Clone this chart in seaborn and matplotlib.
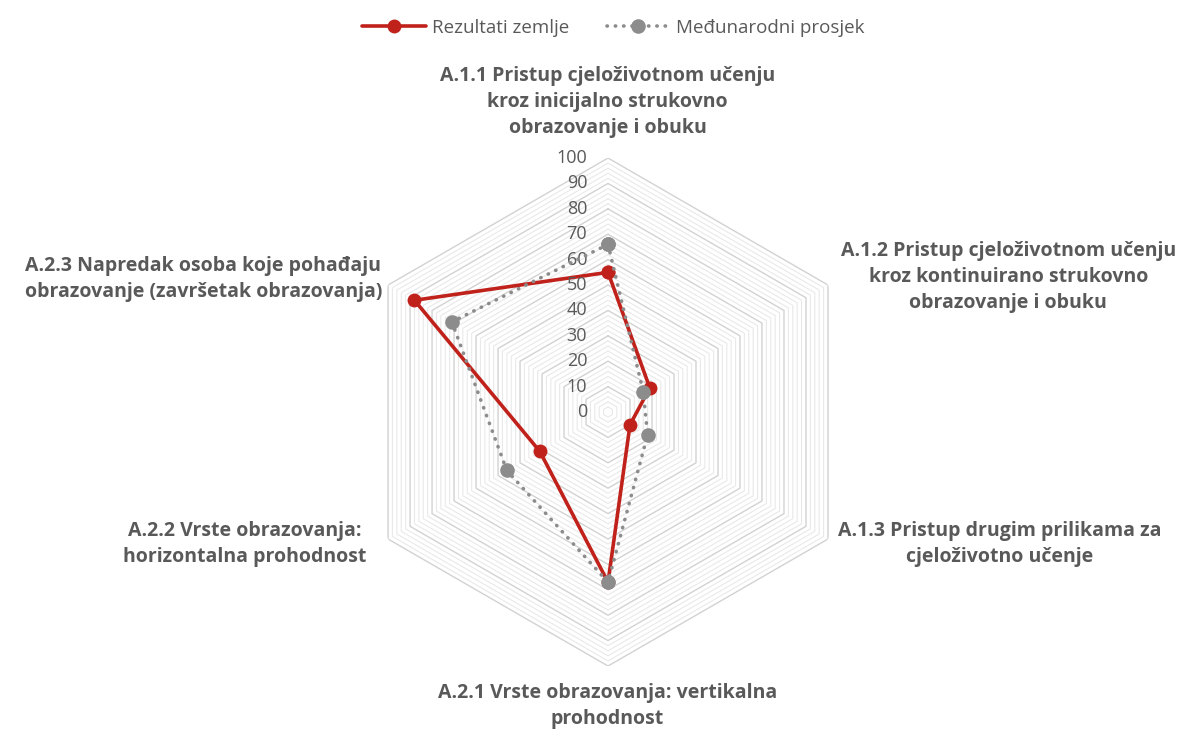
import numpy as np
import matplotlib
matplotlib.use("Agg")
import matplotlib.pyplot as plt
import seaborn as sns

# -- data
categories = [
    "A.1.1 Pristup cjeloživotnom učenju\nkroz inicijalno strukovno\nobrazovanje i obuku",
    "A.1.2 Pristup cjeloživotnom učenju\nkroz kontinuirano strukovno\nobrazovanje i obuku",
    "A.1.3 Pristup drugim prilikama za\ncjeloživotno učenje",
    "A.2.1 Vrste obrazovanja: vertikalna\nprohodnost",
    "A.2.2 Vrste obrazovanja:\nhorizontalna prohodnost",
    "A.2.3 Napredak osoba koje pohađaju\nobrazovanje (završetak obrazovanja)",
]
rezultati_zemlje = [55, 19, 10, 67, 31, 88]
medunarodni_prosjek = [66, 16, 18, 67, 46, 71]
series_names = ["Rezultati zemlje", "Međunarodni prosjek"]
radial_ticks = [0, 10, 20, 30, 40, 50, 60, 70, 80, 90, 100]

sns.set_theme(style="white")
plt.rcParams['font.family'] = ['Open Sans', 'DejaVu Sans']

text_col = "#595959"
red = "#C0221B"
grey = "#8C8C8C"

fig = plt.figure(figsize=(11.82, 7.29), dpi=100)
ax = fig.add_axes([0.2995, 0.0864, 0.4298, 0.6968], projection="polar")
ax.set_theta_offset(np.pi / 2)
ax.set_theta_direction(-1)

n = len(categories)
theta = np.linspace(0, 2 * np.pi, n, endpoint=False)
theta_closed = np.append(theta, theta[0])

# hexagonal gridlines, minor every 2, major every 10
for r in range(2, 101, 2):
    major = r % 10 == 0
    ax.plot(theta_closed, [r] * (n + 1),
            color="#d2d2d2" if major else "#e9e9e9",
            lw=1.0 if major else 0.8, zorder=1)

red_closed = rezultati_zemlje + rezultati_zemlje[:1]
grey_closed = medunarodni_prosjek + medunarodni_prosjek[:1]

sns.lineplot(x=theta_closed, y=red_closed, ax=ax, sort=False, estimator=None,
             color=red, lw=2.6, marker="o", markersize=10, markeredgewidth=0,
             label=series_names[0], zorder=3)
sns.lineplot(x=theta_closed, y=grey_closed, ax=ax, sort=False, estimator=None,
             color=grey, lw=2.6, linestyle=(0, (0.1, 2.2)), dash_capstyle="round",
             marker="o", markersize=10.5, markeredgewidth=0,
             label=series_names[1], zorder=4)

ax.set_ylim(0, 100)
ax.set_xticks([])
ax.set_yticks([])
ax.grid(False)
ax.spines["polar"].set_visible(False)
ax.set_xlabel("")
ax.set_ylabel("")

for t in radial_ticks:
    ax.annotate(str(t), xy=(0, t), xytext=(-15, 0), textcoords="offset points",
                ha="right", va="center", fontsize=13, color=text_col)

# category labels
label_pos = [
    (0.514, 0.860), (0.853, 0.620), (0.846, 0.254),
    (0.514, 0.032), (0.207, 0.254), (0.172, 0.617),
]
for txt, (x, y) in zip(categories, label_pos):
    fig.text(x, y, txt, ha="center", va="center", fontsize=14,
             fontweight="bold", color=text_col, linespacing=1.4)

ax.get_legend().remove()
handles, labels = ax.get_legend_handles_labels()
fig.legend(handles, labels, loc="center", bbox_to_anchor=(0.519, 0.962),
           ncol=2, frameon=False, fontsize=13.5, labelcolor=text_col,
           handlelength=3.4, handletextpad=0.3, columnspacing=2.0)

fig.savefig("out.png", dpi=100, facecolor="white")
